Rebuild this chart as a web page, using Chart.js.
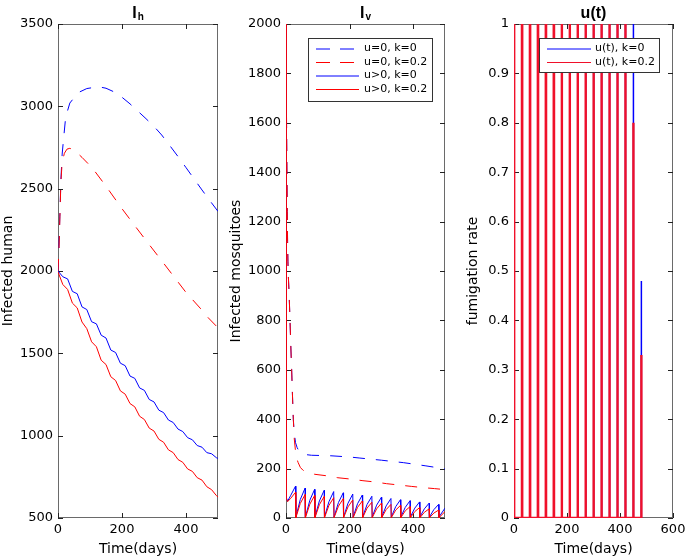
<!DOCTYPE html>
<html>
<head>
<meta charset="utf-8">
<script src="https://cdn.jsdelivr.net/npm/chart.js@4.4.0/dist/chart.umd.min.js"></script>
<style>
  body { margin: 0; background: #fff; }
  #wrap { position: relative; width: 685px; height: 558px; }
  #wrap canvas { position: absolute; top: 0; }
</style>
</head>
<body>
<div id="wrap">
  <canvas id="ih" width="228" height="558" style="left:0;width:228px;height:558px"></canvas>
  <canvas id="iv" width="228" height="558" style="left:228px;width:228px;height:558px"></canvas>
  <canvas id="ut" width="220" height="558" style="left:465px;width:220px;height:558px"></canvas>
</div>
<script>
// ---- I_h panel (infected humans) ----
const ihTimeBlueDash = [0, 3, 6, 9, 13, 19, 24, 37, 63, 90, 126, 150, 175, 200, 225, 250, 275, 300, 324, 350, 375, 400, 425, 450, 477, 500];
const ihBlueDash = [2000, 2150, 2350, 2550, 2710, 2835, 2935, 3020, 3083, 3108, 3119, 3110, 3088, 3055, 3015, 2970, 2925, 2878, 2826, 2760, 2695, 2628, 2560, 2492, 2421, 2362];
const ihTimeRedDash = [0, 3, 6, 9, 13, 20, 28, 37, 50, 75, 100, 116, 150, 199, 240, 282, 325, 366, 400, 444, 470, 500];
const ihRedDash = [2000, 2130, 2330, 2540, 2660, 2715, 2740, 2745, 2735, 2690, 2640, 2603, 2515, 2381, 2275, 2168, 2060, 1956, 1870, 1775, 1715, 1655];
const ihTimeSolid = [0, 15, 30, 45, 60, 75, 90, 105, 120, 135, 150, 165, 180, 195, 210, 225, 240, 255, 270, 285, 300, 315, 330, 345, 360, 375, 390, 405, 420, 435, 450, 465, 480, 495, 500];
const ihBlueSolid = [2000, 1965, 1952, 1876, 1862, 1782, 1766, 1692, 1679, 1610, 1593, 1520, 1505, 1440, 1425, 1362, 1348, 1290, 1275, 1220, 1205, 1155, 1140, 1095, 1080, 1040, 1025, 988, 975, 940, 930, 897, 890, 866, 862];
const ihRedSolid = [1995, 1918, 1888, 1805, 1776, 1690, 1650, 1570, 1540, 1458, 1432, 1358, 1335, 1272, 1252, 1195, 1175, 1118, 1098, 1046, 1028, 978, 960, 914, 897, 855, 838, 798, 783, 745, 730, 690, 672, 636, 627];

// ---- I_v panel (infected mosquitoes) ----
const ivTimeBlueDash = [0, 1, 2, 3, 4, 5, 6, 7, 10, 12.6, 15, 17.8, 20, 23, 26, 30, 35, 40, 50, 60, 80, 140, 200, 230, 300, 370, 440, 500];
const ivBlueDash = [2000, 1750, 1550, 1380, 1240, 1120, 1040, 990, 900, 800, 700, 600, 510, 400, 345, 305, 285, 273, 262, 257, 254, 252, 247, 243, 234, 224, 211, 199];
const ivTimeRedDash = [0, 1, 2, 3, 4, 5, 6, 7, 10, 12.6, 15, 17.8, 20, 23, 26, 30, 34, 38, 45, 53, 60, 90, 127, 163, 200, 242, 279, 316, 352, 394, 431, 467, 500];
const ivRedDash = [2000, 1750, 1550, 1380, 1240, 1120, 1040, 990, 900, 800, 700, 600, 510, 400, 320, 270, 240, 225, 205, 194, 188, 177, 171, 163, 158, 151, 146, 139, 134, 128, 123, 119, 115];
const ivTimeSolid = [0, 0.3, 5, 15, 30, 31, 45, 60, 61, 75, 90, 91, 105, 120, 121, 135, 150, 151, 165, 180, 181, 195, 210, 211, 225, 240, 241, 255, 270, 271, 285, 300, 301, 315, 330, 331, 345, 360, 361, 375, 390, 391, 405, 420, 421, 435, 450, 451, 465, 480, 481, 500];
const ivBlueSolid = [2000, 85, 68, 92, 129, 4, 75, 121, 4, 72, 116, 4, 69, 112, 4, 66, 107, 4, 63, 102, 4, 60, 97, 4, 58, 93, 4, 55, 88, 4, 52, 84, 4, 49, 79, 4, 46, 74, 4, 43, 70, 4, 40, 65, 4, 37, 60, 4, 34, 55, 4, 40];
const ivRedSolid = [2000, 82, 66, 80, 104, 1, 59, 95, 1, 56, 91, 1, 54, 87, 1, 51, 82, 1, 48, 78, 1, 45, 73, 1, 43, 69, 1, 40, 64, 1, 37, 60, 1, 34, 55, 1, 32, 51, 1, 29, 46, 1, 26, 42, 1, 23, 37, 1, 20, 32, 1, 26];

// ---- u(t) panel (fumigation pulses) ----
const pulseTimes = [0, 30, 60, 90, 120, 150, 180, 210, 240, 270, 300, 330, 360, 390, 420, 450, 480];
const pulseWidth = 1;
const uBlue = [1, 1, 1, 1, 1, 1, 1, 1, 1, 1, 1, 1, 1, 1, 1, 1, 0.48];
const uRed = [1, 1, 1, 1, 1, 1, 1, 1, 1, 1, 1, 1, 1, 1, 1, 0.8, 0.33];

// ---- tick values ----
const ihYTicks = [500, 1000, 1500, 2000, 2500, 3000, 3500];
const ivYTicks = [0, 200, 400, 600, 800, 1000, 1200, 1400, 1600, 1800, 2000];
const utYTicks = [0, 0.1, 0.2, 0.3, 0.4, 0.5, 0.6, 0.7, 0.8, 0.9, 1];
const timeTicks = [0, 200, 400];
const utTimeTicks = [0, 200, 400, 600];

const BLUE = '#0000ff';
const RED = '#ff0000';
const DASH = [12, 11];
const LEGEND_DASH = [14, 10];

Chart.defaults.font.family = '"DejaVu Sans", sans-serif';
Chart.defaults.color = '#000';

function pts(ts, vs) {
  return ts.map((t, i) => ({ x: t, y: vs[i] }));
}

function pulses(levels) {
  const out = [];
  pulseTimes.forEach((t, i) => {
    out.push({ x: t, y: 0 }, { x: t, y: levels[i] }, { x: t + pulseWidth, y: levels[i] }, { x: t + pulseWidth, y: 0 });
  });
  return out;
}

// box around the plot + inward ticks on all four sides (matlab look)
const framePlugin = {
  id: 'frame',
  beforeDatasetsDraw(chart) {
    const { ctx, chartArea: a, scales } = chart;
    ctx.save();
    ctx.strokeStyle = '#6a6a6a';
    ctx.lineWidth = 1;
    ctx.strokeRect(a.left + 0.5, a.top + 0.5, a.right - a.left - 1, a.bottom - a.top - 1);
    ctx.strokeStyle = '#222';
    ctx.beginPath();
    scales.y.ticks.forEach(t => {
      const py = Math.round(scales.y.getPixelForValue(t.value)) + 0.5;
      ctx.moveTo(a.left, py); ctx.lineTo(a.left + 5, py);
      ctx.moveTo(a.right, py); ctx.lineTo(a.right - 5, py);
    });
    scales.x.ticks.forEach(t => {
      const px = Math.round(scales.x.getPixelForValue(t.value)) + 0.5;
      ctx.moveTo(px, a.bottom); ctx.lineTo(px, a.bottom - 5);
      ctx.moveTo(px, a.top); ctx.lineTo(px, a.top + 5);
    });
    ctx.stroke();
    ctx.restore();
  }
};

// bold title with optional subscript
const titlePlugin = {
  id: 'panelTitle',
  afterDraw(chart, args, o) {
    const { ctx, chartArea: a } = chart;
    const big = 'bold 16px "Liberation Sans", Arial, sans-serif';
    const small = 'bold 10px "Liberation Sans", Arial, sans-serif';
    ctx.save();
    ctx.fillStyle = '#000';
    ctx.textBaseline = 'alphabetic';
    ctx.font = big;
    const w1 = ctx.measureText(o.main).width;
    ctx.font = small;
    const w2 = o.sub ? ctx.measureText(o.sub).width + 1 : 0;
    const x0 = (a.left + a.right) / 2 - (w1 + w2) / 2;
    ctx.font = big;
    ctx.fillText(o.main, x0, 17.5);
    if (o.sub) {
      ctx.font = small;
      ctx.fillText(o.sub, x0 + w1 + 1, 20);
    }
    ctx.restore();
  }
};

// framed legend inside the plot area
const boxLegendPlugin = {
  id: 'boxLegend',
  afterDraw(chart, args, o) {
    if (!o.box) return;
    const { ctx } = chart;
    const [bx, by, bw, bh] = o.box;
    ctx.save();
    ctx.fillStyle = '#fff';
    ctx.fillRect(bx, by, bw, bh);
    ctx.strokeStyle = '#333';
    ctx.lineWidth = 1;
    ctx.strokeRect(bx + 0.5, by + 0.5, bw, bh);
    ctx.font = '11px "DejaVu Sans", sans-serif';
    ctx.textBaseline = 'middle';
    ctx.fillStyle = '#000';
    chart.data.datasets.forEach((ds, i) => {
      const y = o.rowY[i];
      ctx.strokeStyle = ds.borderColor;
      ctx.lineWidth = 1;
      ctx.setLineDash(ds.legendDash || []);
      ctx.beginPath();
      ctx.moveTo(o.lineX[0], y + 0.5);
      ctx.lineTo(o.lineX[1], y + 0.5);
      ctx.stroke();
      ctx.setLineDash([]);
      ctx.fillText(ds.label, o.textX, y);
    });
    ctx.restore();
  }
};

function makeChart(id, cfg) {
  return new Chart(document.getElementById(id), {
    type: 'line',
    data: { datasets: cfg.datasets },
    options: {
      responsive: false,
      animation: false,
      events: [],
      layout: { padding: { top: 24, right: cfg.padRight, bottom: 0, left: 0 } },
      elements: { point: { radius: 0 }, line: { tension: 0, borderWidth: 1 } },
      plugins: {
        legend: { display: false },
        tooltip: { enabled: false },
        panelTitle: cfg.title,
        boxLegend: cfg.legend || {}
      },
      scales: {
        x: {
          type: 'linear',
          min: 0,
          max: cfg.xMax,
          afterBuildTicks: s => { s.ticks = cfg.xTicks.map(v => ({ value: v })); },
          afterFit: s => { s.height = 40; s.paddingLeft = 0; s.paddingRight = 0; },
          grid: { display: false, drawTicks: false },
          border: { display: false },
          ticks: { padding: 4, font: { size: 13 }, color: '#000', maxRotation: 0, autoSkip: false, callback: v => String(v) },
          title: { display: true, text: 'Time(days)', font: { size: 14 }, padding: 0, color: '#000' }
        },
        y: {
          type: 'linear',
          min: cfg.yMin,
          max: cfg.yMax,
          afterBuildTicks: s => { s.ticks = cfg.yTicks.map(v => ({ value: v })); },
          afterFit: s => { s.width = cfg.yWidth; s.paddingTop = 0; s.paddingBottom = 0; },
          grid: { display: false, drawTicks: false },
          border: { display: false },
          ticks: { padding: 5, font: { size: 13 }, color: '#000', autoSkip: false, callback: v => String(v) },
          title: { display: true, text: cfg.yTitle, font: { size: 14 }, padding: 0, color: '#000' }
        }
      }
    },
    plugins: [framePlugin, titlePlugin, boxLegendPlugin]
  });
}

makeChart('ih', {
  padRight: 10, yWidth: 58, xMax: 500, xTicks: timeTicks,
  yMin: 500, yMax: 3500, yTicks: ihYTicks, yTitle: 'Infected human',
  title: { main: 'I', sub: 'h' },
  datasets: [
    { label: 'u=0, k=0', data: pts(ihTimeBlueDash, ihBlueDash), borderColor: BLUE, borderDash: DASH, order: 4 },
    { label: 'u=0, k=0.2', data: pts(ihTimeRedDash, ihRedDash), borderColor: RED, borderDash: DASH, order: 3 },
    { label: 'u>0, k=0', data: pts(ihTimeSolid, ihBlueSolid), borderColor: BLUE, order: 2 },
    { label: 'u>0, k=0.2', data: pts(ihTimeSolid, ihRedSolid), borderColor: RED, order: 1 }
  ]
});

makeChart('iv', {
  padRight: 11, yWidth: 58, xMax: 500, xTicks: timeTicks,
  yMin: 0, yMax: 2000, yTicks: ivYTicks, yTitle: 'Infected mosquitoes',
  title: { main: 'I', sub: 'v' },
  legend: { box: [80, 38, 124, 63], lineX: [88, 131], textX: 136, rowY: [48.5, 62, 75.5, 89] },
  datasets: [
    { label: 'u=0, k=0', data: pts(ivTimeBlueDash, ivBlueDash), borderColor: BLUE, borderDash: DASH, legendDash: LEGEND_DASH, order: 4 },
    { label: 'u=0, k=0.2', data: pts(ivTimeRedDash, ivRedDash), borderColor: RED, borderDash: DASH, legendDash: LEGEND_DASH, order: 3 },
    { label: 'u>0, k=0', data: pts(ivTimeSolid, ivBlueSolid), borderColor: BLUE, order: 2 },
    { label: 'u>0, k=0.2', data: pts(ivTimeSolid, ivRedSolid), borderColor: RED, order: 1 }
  ]
});

makeChart('ut', {
  padRight: 12, yWidth: 49, xMax: 600, xTicks: utTimeTicks,
  yMin: 0, yMax: 1, yTicks: utYTicks, yTitle: 'fumigation rate',
  title: { main: 'u(t)' },
  legend: { box: [74, 38, 120, 34], lineX: [82, 126], textX: 130, rowY: [48.5, 62] },
  datasets: [
    { label: 'u(t), k=0', data: pulses(uBlue), borderColor: BLUE, borderWidth: 1.5, order: 2 },
    { label: 'u(t), k=0.2', data: pulses(uRed), borderColor: '#f0102a', borderWidth: 2.4, order: 1 }
  ]
});
</script>
</body>
</html>
